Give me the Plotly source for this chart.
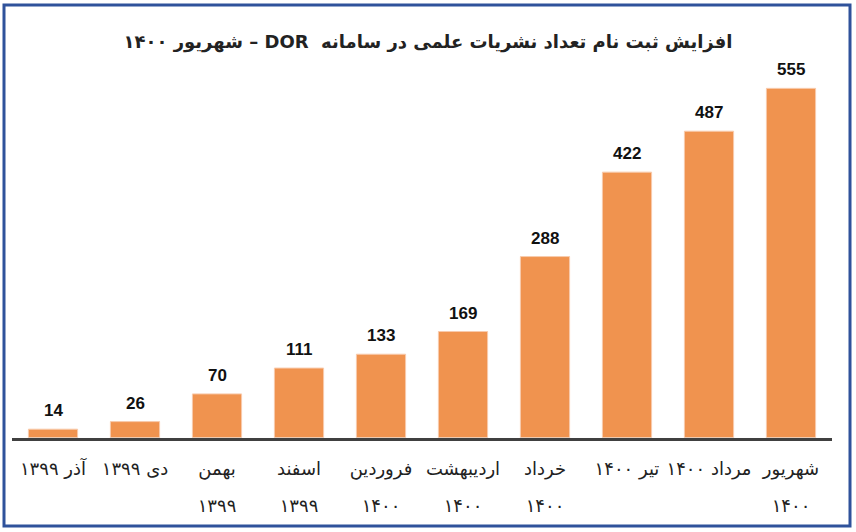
import plotly.graph_objects as go

# ماه‌ها (از چپ به راست)
categories = ["آذر ۱۳۹۹", "دی ۱۳۹۹", "بهمن ۱۳۹۹", "اسفند ۱۳۹۹", "فروردین ۱۴۰۰",
              "اردیبهشت ۱۴۰۰", "خرداد ۱۴۰۰", "تیر ۱۴۰۰", "مرداد ۱۴۰۰", "شهریور ۱۴۰۰"]
# برچسب‌ها در دو ردیف
tick_line1 = ["آذر ۱۳۹۹", "دی ۱۳۹۹", "بهمن", "اسفند", "فروردین",
              "اردیبهشت", "خرداد", "تیر ۱۴۰۰", "مرداد ۱۴۰۰", "شهریور"]
tick_line2 = ["", "", "۱۳۹۹", "۱۳۹۹", "۱۴۰۰", "۱۴۰۰", "۱۴۰۰", "", "", "۱۴۰۰"]
values = [14, 26, 70, 111, 133, 169, 288, 422, 487, 555]

title_text = "شهریور ۱۴۰۰ – DOR  افزایش ثبت نام تعداد نشریات علمی در سامانه"

fig = go.Figure()

fig.add_trace(go.Bar(
    x=categories,
    y=values,
    marker=dict(color='#F0934F', line=dict(color='#F8CBAD', width=1)),
    hoverinfo='x+y',
))

# برچسب مقادیر بالای ستون‌ها
for c, v in zip(categories, values):
    fig.add_annotation(x=c, y=v, text=str(v), showarrow=False,
                       yanchor='bottom', yshift=7,
                       font=dict(family='Liberation Sans', size=17, color='#111111', weight='bold'))

tick_font = dict(family='DejaVu Sans', size=18, color='#222222')

fig.update_layout(
    width=856,
    height=532,
    title=dict(text=title_text, x=0.5, xanchor='center', y=1 - 42 / 532, yanchor='middle',
               yref='container',
               font=dict(family='DejaVu Sans', size=18, color='#222222', weight='bold')),
    showlegend=False,
    bargap=0.4,
    margin=dict(l=12, r=24, t=60, b=94),
    plot_bgcolor='white',
    paper_bgcolor='white',
    xaxis=dict(
        tickmode='array', tickvals=categories, ticktext=tick_line1,
        showline=True, linecolor='#404040', linewidth=3,
        ticks='', ticklabelstandoff=12,
        tickfont=tick_font,
        showgrid=False,
    ),
    xaxis2=dict(
        overlaying='x', anchor='y', side='bottom', matches='x',
        type='category', categoryarray=categories,
        tickmode='array', tickvals=categories, ticktext=tick_line2,
        showline=False, ticks='', ticklabelstandoff=55,
        tickfont=tick_font, showgrid=False,
    ),
    yaxis=dict(range=[0, 600], visible=False, showgrid=False),
    # قاب آبی دور نمودار
    shapes=[dict(type='rect', xref='paper', yref='paper',
                 x0=-12 / 820 + 4 / 820, x1=1 + 24 / 820 - 6 / 820,
                 y0=-94 / 378 + 6 / 378, y1=1 + 60 / 378 - 5 / 378,
                 line=dict(color='#2F529B', width=3))],
)

# ردیف دوم برچسب‌ها روی محور دوم
fig.add_trace(go.Bar(x=categories, y=[0] * len(categories), xaxis='x2',
                     hoverinfo='skip', showlegend=False))

fig.write_html("out.html", config={'displayModeBar': False},
               post_script="document.body.style.margin='0';")
